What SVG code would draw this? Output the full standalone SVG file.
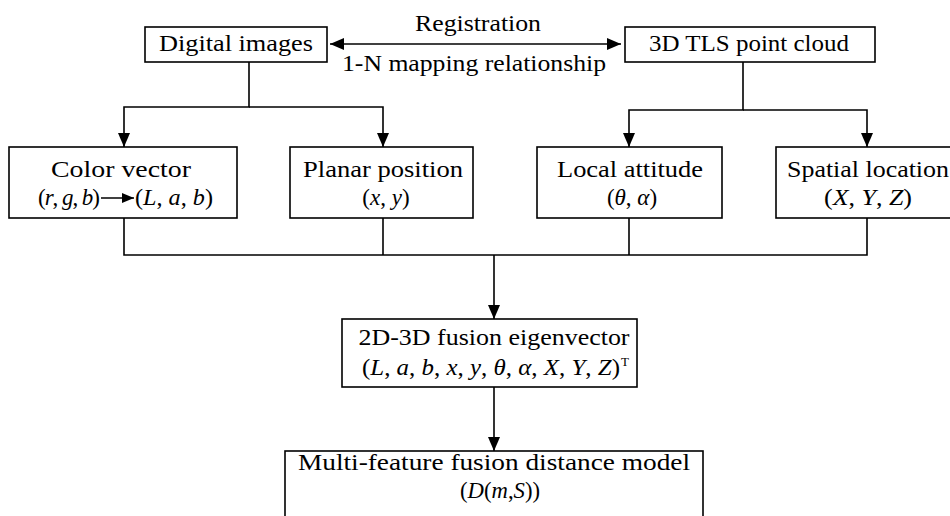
<svg xmlns="http://www.w3.org/2000/svg" width="950" height="516" viewBox="0 0 950 516">
<defs>
<marker id="ah" markerUnits="userSpaceOnUse" markerWidth="14" markerHeight="14" viewBox="0 0 14 14" refX="14" refY="7" orient="auto-start-reverse">
<path d="M0,1 L14,7 L0,13 Z" fill="#000"/>
</marker>
<marker id="ahs" markerUnits="userSpaceOnUse" markerWidth="12" markerHeight="12" viewBox="0 0 12 12" refX="12" refY="6" orient="auto">
<path d="M0,1 L12,6 L0,11 Z" fill="#000"/>
</marker>
</defs>
<style>
.box{fill:#fff;stroke:#000;stroke-width:1.6}
.t{font-family:"Liberation Serif","Times New Roman",serif;font-size:24px;fill:#000;text-anchor:middle}
.s{font-size:23px}
.i{font-style:italic}
.ln{fill:none;stroke:#000;stroke-width:1.6}
</style>
<rect width="950" height="516" fill="#fff"/>

<g id="connectors">
<path class="ln" d="M330,44 L621,44" marker-start="url(#ah)" marker-end="url(#ah)"/>
<path class="ln" d="M249,62 V107 H124 V147" marker-end="url(#ah)"/>
<path class="ln" d="M249,107 H383 V147" marker-end="url(#ah)"/>
<path class="ln" d="M743,62 V110 H629 V147" marker-end="url(#ah)"/>
<path class="ln" d="M743,110 H867 V147" marker-end="url(#ah)"/>
<path class="ln" d="M124,218 V255 H867 V218"/>
<path class="ln" d="M383,218 V255"/>
<path class="ln" d="M629,218 V255"/>
<path class="ln" d="M494,255 V319" marker-end="url(#ah)"/>
<path class="ln" d="M494,387 V451" marker-end="url(#ah)"/>
</g>

<g id="edge-labels">
<text class="t" x="478" y="31" textLength="126" lengthAdjust="spacingAndGlyphs">Registration</text>
<text class="t" x="474" y="71" textLength="264" lengthAdjust="spacingAndGlyphs">1-N mapping relationship</text>
</g>

<g id="digital-images">
<rect class="box" x="145" y="27" width="182" height="35"/>
<text class="t" x="236" y="51" textLength="154" lengthAdjust="spacingAndGlyphs">Digital images</text>
</g>

<g id="tls-point-cloud">
<rect class="box" x="625" y="27" width="250" height="35"/>
<text class="t" x="749" y="51" textLength="200" lengthAdjust="spacingAndGlyphs">3D TLS point cloud</text>
</g>

<g id="color-vector">
<rect class="box" x="9" y="147" width="228" height="71"/>
<text class="t" x="121" y="177" textLength="140" lengthAdjust="spacingAndGlyphs">Color vector</text>
<text class="t s" x="69" y="205" textLength="62">(<tspan class="i">r</tspan>, <tspan class="i">g</tspan>, <tspan class="i">b</tspan>)</text>
<path class="ln" d="M101,198 H134" marker-end="url(#ahs)"/>
<text class="t s" x="174" y="205" textLength="78" lengthAdjust="spacingAndGlyphs">(<tspan class="i">L</tspan>, <tspan class="i">a</tspan>, <tspan class="i">b</tspan>)</text>
</g>

<g id="planar-position">
<rect class="box" x="290" y="147" width="183" height="71"/>
<text class="t" x="383" y="177" textLength="160" lengthAdjust="spacingAndGlyphs">Planar position</text>
<text class="t s" x="386" y="205">(<tspan class="i">x</tspan>, <tspan class="i">y</tspan>)</text>
</g>

<g id="local-attitude">
<rect class="box" x="537" y="147" width="185" height="71"/>
<text class="t" x="630" y="177" textLength="146" lengthAdjust="spacingAndGlyphs">Local attitude</text>
<text class="t s" x="632" y="205">(<tspan class="i">θ</tspan>, <tspan class="i">α</tspan>)</text>
</g>

<g id="spatial-location">
<rect class="box" x="776" y="147" width="184" height="71"/>
<text class="t" x="868" y="177" textLength="162" lengthAdjust="spacingAndGlyphs">Spatial location</text>
<text class="t s" x="868" y="205" textLength="88" lengthAdjust="spacingAndGlyphs">(<tspan class="i">X</tspan>, <tspan class="i">Y</tspan>, <tspan class="i">Z</tspan>)</text>
</g>

<g id="fusion-eigenvector">
<rect class="box" x="342" y="319" width="295" height="68"/>
<text class="t" x="494" y="345" textLength="271" lengthAdjust="spacingAndGlyphs">2D-3D fusion eigenvector</text>
<text class="t s" x="491" y="375" textLength="258" lengthAdjust="spacingAndGlyphs">(<tspan class="i">L</tspan>, <tspan class="i">a</tspan>, <tspan class="i">b</tspan>, <tspan class="i">x</tspan>, <tspan class="i">y</tspan>, <tspan class="i">θ</tspan>, <tspan class="i">α</tspan>, <tspan class="i">X</tspan>, <tspan class="i">Y</tspan>, <tspan class="i">Z</tspan>)</text>
<text x="621" y="366" style="font-family:'Liberation Serif','Times New Roman',serif;font-size:13px">T</text>
</g>

<g id="distance-model">
<rect class="box" x="285" y="451" width="418" height="80"/>
<text class="t" x="494" y="470" textLength="392" lengthAdjust="spacingAndGlyphs">Multi-feature fusion distance model</text>
<text class="t s" x="500" y="498" textLength="80" lengthAdjust="spacingAndGlyphs">(<tspan class="i">D</tspan>(<tspan class="i">m</tspan>,<tspan class="i">S</tspan>))</text>
</g>
</svg>
